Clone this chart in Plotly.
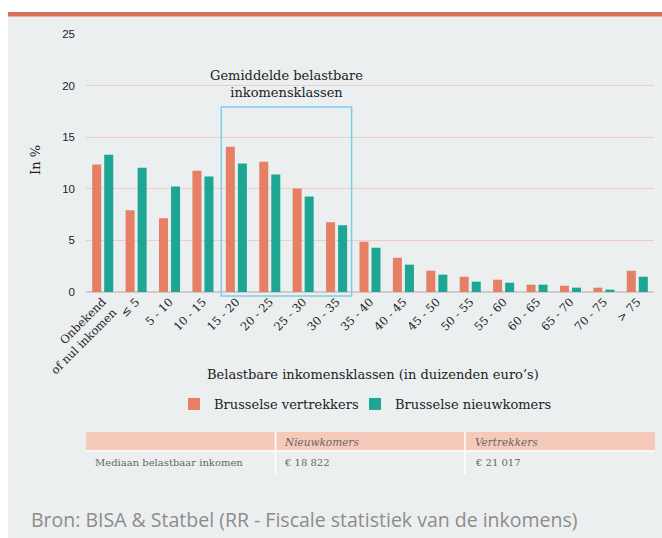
import plotly.graph_objects as go

categories = ["Onbekend<br>of nul inkomen", "≤ 5", "5 - 10", "10 - 15", "15 - 20", "20 - 25",
              "25 - 30", "30 - 35", "35 - 40", "40 - 45", "45 - 50", "50 - 55", "55 - 60",
              "60 - 65", "65 - 70", "70 - 75", "> 75"]
vertrekkers = [12.35, 7.92, 7.15, 11.76, 14.07, 12.63, 10.03, 6.76, 4.87, 3.32, 2.06, 1.48,
               1.19, 0.71, 0.61, 0.42, 2.06]
nieuwkomers = [13.3, 12.05, 10.22, 11.19, 12.44, 11.38, 9.26, 6.47, 4.29, 2.65, 1.68, 1.0,
               0.9, 0.71, 0.42, 0.23, 1.48]
y_ticks = [0, 5, 10, 15, 20, 25]

table_header = ["", "Nieuwkomers", "Vertrekkers"]
table_row = ["Mediaan belastbaar inkomen", "€ 18 822", "€ 21 017"]

highlight_first, highlight_last = 4, 7  # 15-20 .. 30-35

W, H = 662, 538
L, R, T, B = 86, 8, 34, 246
PW, PH = W - L - R, H - T - B

def fx(px):
    return (px - L) / PW

def fy(py):
    return (H - B - py) / PH

ORANGE = "#E58064"
GREEN = "#1DA694"
PANEL = "#ECEFF0"
SERIF = "DejaVu Serif"

fig = go.Figure()
fig.add_trace(go.Bar(name="Brusselse vertrekkers", x=categories, y=vertrekkers, legend="legend",
                     marker=dict(color=ORANGE, line=dict(width=0))))
fig.add_trace(go.Bar(name="Brusselse nieuwkomers", x=categories, y=nieuwkomers, legend="legend2",
                     marker=dict(color=GREEN, line=dict(width=0))))

shapes = [
    # panel background
    dict(type="rect", xref="paper", yref="paper", x0=fx(8), x1=fx(663), y0=fy(540), y1=fy(15),
         fillcolor=PANEL, line=dict(width=0), layer="below"),
    # top accent line
    dict(type="rect", xref="paper", yref="paper", x0=fx(8), x1=fx(663), y0=fy(16.5), y1=fy(12),
         fillcolor="#D9705A", line=dict(width=0), layer="below"),
]
n = len(categories)
bx0 = (highlight_first + 0.05) / n
bx1 = (highlight_last + 0.95) / n
shapes.append(dict(type="rect", xref="paper", yref="paper", x0=bx0, x1=bx1,
                   y0=fy(296), y1=fy(107), line=dict(color="#7FCBEA", width=1.5),
                   fillcolor="rgba(0,0,0,0)", layer="above"))
# table
shapes.append(dict(type="rect", xref="paper", yref="paper", x0=fx(86), x1=fx(655),
                   y0=fy(451), y1=fy(432), fillcolor="#F5CABB", line=dict(width=0), layer="below"))
for dx in (275.5, 465):
    shapes.append(dict(type="line", xref="paper", yref="paper", x0=fx(dx), x1=fx(dx),
                       y0=fy(474), y1=fy(432), line=dict(color="white", width=1.5), layer="below"))
shapes.append(dict(type="line", xref="paper", yref="paper", x0=fx(86), x1=fx(655),
                   y0=fy(451), y1=fy(451), line=dict(color="white", width=1.5), layer="below"))

annotations = [
    dict(text="Gemiddelde belastbare<br>inkomensklassen", xref="paper", yref="paper",
         x=(bx0 + bx1) / 2, y=fy(84), xanchor="center", yanchor="middle", showarrow=False,
         font=dict(family=SERIF, size=13, color="#222")),
    dict(text="In %", xref="paper", yref="paper", x=fx(35), y=fy(160), textangle=-90,
         xanchor="center", yanchor="middle", showarrow=False,
         font=dict(family=SERIF, size=13, color="#222")),
    dict(text="Belastbare inkomensklassen (in duizenden euro’s)", xref="paper", yref="paper",
         x=fx(373), y=fy(374), xanchor="center", yanchor="middle", showarrow=False,
         font=dict(family=SERIF, size=13, color="#222")),
    dict(text="Bron: BISA & Statbel (RR - Fiscale statistiek van de inkomens)", xref="paper",
         yref="paper", x=fx(29), y=fy(519), xanchor="left", yanchor="middle", showarrow=False,
         font=dict(family="Open Sans", size=19.5, color="#8C8C8C")),
]
col_x = [93, 282, 473]
for i, t in enumerate(table_header):
    if t:
        annotations.append(dict(text="<i>" + t + "</i>", xref="paper", yref="paper", x=fx(col_x[i]),
                                y=fy(441.5), xanchor="left", yanchor="middle", showarrow=False,
                                font=dict(family=SERIF, size=10.5, color="#666")))
for i, t in enumerate(table_row):
    annotations.append(dict(text=t, xref="paper", yref="paper", x=fx(col_x[i]),
                            y=fy(462.5), xanchor="left", yanchor="middle", showarrow=False,
                            font=dict(family=SERIF, size=10, color="#666")))

legend_common = dict(orientation="h", xanchor="left", y=fy(404), yanchor="middle",
                     font=dict(family=SERIF, size=13, color="#222"), bgcolor="rgba(0,0,0,0)")

fig.update_layout(
    width=W, height=H,
    margin=dict(l=L, r=R, t=T, b=B, pad=0),
    paper_bgcolor="white",
    plot_bgcolor="rgba(0,0,0,0)",
    barmode="group",
    bargap=0.28,
    bargroupgap=0.25,
    showlegend=True,
    legend=dict(x=fx(174), **legend_common),
    legend2=dict(x=fx(355), **legend_common),
    xaxis=dict(tickangle=-45, tickfont=dict(family=SERIF, size=11.5, color="#222"),
               showgrid=False, showline=False, ticks="", automargin=False),
    yaxis=dict(range=[0, 25], tickvals=y_ticks, tickfont=dict(family="Liberation Sans", size=11.5, color="#222"),
               showgrid=True, gridcolor="#F0CCC8", gridwidth=1, zeroline=True,
               zerolinecolor="#D3C9C9", zerolinewidth=2, ticks="", ticklabelstandoff=10,
               automargin=False),
    shapes=shapes,
    annotations=annotations,
)

fig.write_html("out.html", config={"displayModeBar": False},
               post_script="document.body.style.margin='0';document.body.style.padding='0';")
